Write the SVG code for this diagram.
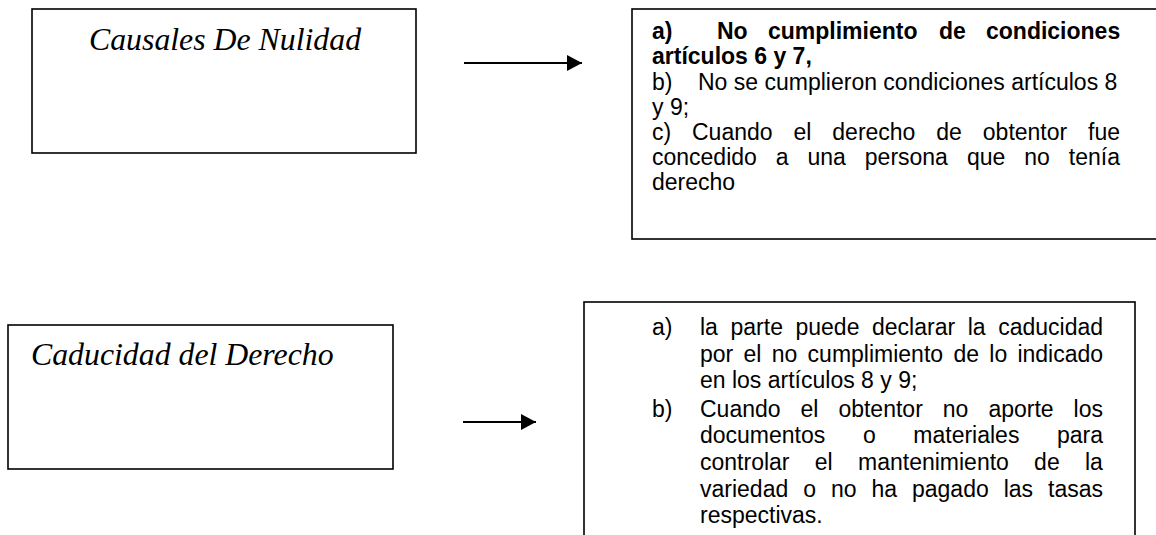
<svg xmlns="http://www.w3.org/2000/svg" width="1156" height="535" viewBox="0 0 1156 535">
<style>
.box{fill:#fff;stroke:#000;stroke-width:1.6}
.title{font-family:"Liberation Serif","Times New Roman",serif;font-style:italic;font-size:31.8px;fill:#000}
.body{font-family:"Liberation Sans",Arial,sans-serif;font-size:23px;fill:#000}
.b{font-weight:bold}
.conn{stroke:#000;stroke-width:2.2;fill:none}
</style>
<defs>
<marker id="arr" markerUnits="userSpaceOnUse" markerWidth="16" markerHeight="16" refX="15" refY="8" orient="auto">
<path d="M0,0 L15,8 L0,16 Z" fill="#000"/>
</marker>
</defs>
<g id="connectors">
<line class="conn" x1="464" y1="63" x2="582" y2="63" marker-end="url(#arr)"/>
<line class="conn" x1="463" y1="422" x2="536" y2="422" marker-end="url(#arr)"/>
</g>
<g id="causales">
<rect class="box" x="32" y="9" width="384" height="144"/>
<text class="title" x="89" y="49.5">Causales De Nulidad</text>
</g>
<g id="nulidad-list">
<rect class="box" x="632" y="9" width="540" height="230"/>
<text class="body b"><tspan x="652" y="39">a)</tspan><tspan x="717" y="39">No</tspan><tspan x="768" y="39">cumplimiento</tspan><tspan x="939" y="39">de</tspan><tspan x="986" y="39">condiciones</tspan></text>
<text class="body b" x="652" y="64">artículos 6 y 7,</text>
<text class="body"><tspan x="652" y="90">b)</tspan><tspan x="698" y="90">No se cumplieron condiciones artículos 8</tspan></text>
<text class="body" x="652" y="115">y 9;</text>
<text class="body"><tspan x="652" y="140">c)</tspan><tspan x="692" y="140">Cuando</tspan><tspan x="793.5" y="140">el</tspan><tspan x="832.3" y="140">derecho</tspan><tspan x="936.3" y="140">de</tspan><tspan x="982.8" y="140">obtentor</tspan><tspan x="1088" y="140">fue</tspan></text>
<text class="body"><tspan x="652" y="165">concedido</tspan><tspan x="775.7" y="165">a</tspan><tspan x="807.5" y="165">una</tspan><tspan x="864.8" y="165">persona</tspan><tspan x="966.9" y="165">que</tspan><tspan x="1024.2" y="165">no</tspan><tspan x="1068.8" y="165">tenía</tspan></text>
<text class="body" x="652" y="190">derecho</text>
</g>
<g id="caducidad">
<rect class="box" x="8" y="325" width="385" height="144"/>
<text class="title" x="31" y="365">Caducidad del Derecho</text>
</g>
<g id="caducidad-list">
<rect class="box" x="584" y="302" width="551" height="250"/>
<text class="body"><tspan x="652" y="335">a)</tspan><tspan x="700" y="335">la</tspan><tspan x="730.5" y="335">parte</tspan><tspan x="795.5" y="335">puede</tspan><tspan x="872" y="335">declarar</tspan><tspan x="967.7" y="335">la</tspan><tspan x="998.2" y="335">caducidad</tspan></text>
<text class="body"><tspan x="700" y="362">por</tspan><tspan x="743.5" y="362">el</tspan><tspan x="771.7" y="362">no</tspan><tspan x="807.6" y="362">cumplimiento</tspan><tspan x="953.4" y="362">de</tspan><tspan x="989.3" y="362">lo</tspan><tspan x="1017.4" y="362">indicado</tspan></text>
<text class="body" x="700" y="388">en los artículos 8 y 9;</text>
<text class="body"><tspan x="652" y="417">b)</tspan><tspan x="700" y="417">Cuando</tspan><tspan x="800.5" y="417">el</tspan><tspan x="838.4" y="417">obtentor</tspan><tspan x="942.8" y="417">no</tspan><tspan x="988.4" y="417">aporte</tspan><tspan x="1073.6" y="417">los</tspan></text>
<text class="body"><tspan x="700" y="443">documentos</tspan><tspan x="862.9" y="443">o</tspan><tspan x="913.3" y="443">materiales</tspan><tspan x="1057" y="443">para</tspan></text>
<text class="body"><tspan x="700" y="470">controlar</tspan><tspan x="814.8" y="470">el</tspan><tspan x="858" y="470">mantenimiento</tspan><tspan x="1034.1" y="470">de</tspan><tspan x="1085" y="470">la</tspan></text>
<text class="body"><tspan x="700" y="497">variedad</tspan><tspan x="803.2" y="497">o</tspan><tspan x="830.9" y="497">no</tspan><tspan x="871.5" y="497">ha</tspan><tspan x="912" y="497">pagado</tspan><tspan x="1003.7" y="497">las</tspan><tspan x="1048" y="497">tasas</tspan></text>
<text class="body" x="700" y="523">respectivas.</text>
</g>
</svg>
